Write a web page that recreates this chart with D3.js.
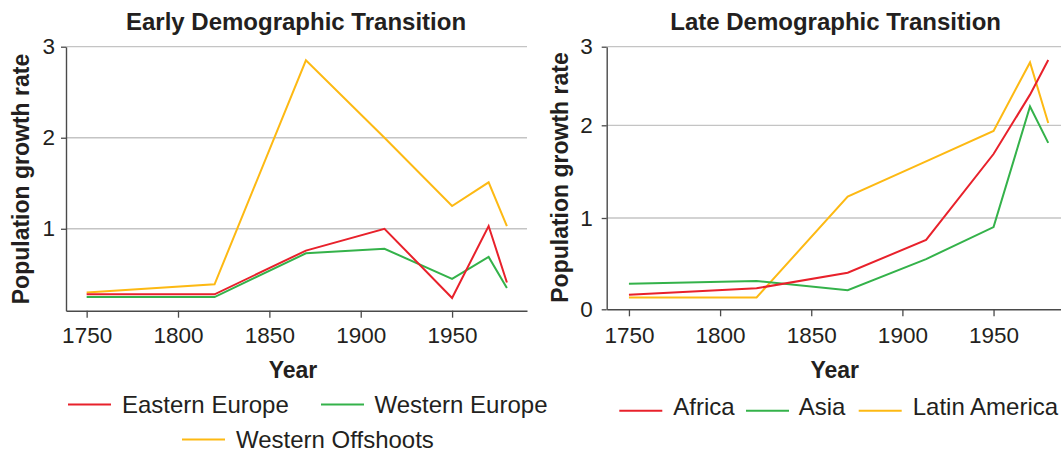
<!DOCTYPE html>
<html>
<head>
<meta charset="utf-8">
<script src="https://cdn.jsdelivr.net/npm/d3@7/dist/d3.min.js"></script>
<style>
  html, body { margin: 0; padding: 0; background: #fff; }
  svg { display: block; font-family: "Liberation Sans", Arial, Helvetica, sans-serif; }
  .tick text { fill: #231f20; }
</style>
</head>
<body>
<svg id="chart" width="1061" height="451"></svg>
<script>
// Period end years shared by both panels
const years = [1750, 1820, 1870, 1913, 1950, 1970, 1980];

// Early transition: population growth rate (% per year)
const easternEurope    = [0.28, 0.28, 0.76, 1.00, 0.24, 1.03, 0.41];
const westernEurope    = [0.25, 0.25, 0.73, 0.78, 0.45, 0.69, 0.35];
const westernOffshoots = [0.30, 0.39, 2.85, 2.00, 1.25, 1.51, 1.03];

// Late transition: population growth rate (% per year)
const africa       = [0.16, 0.23, 0.40, 0.76, 1.69, 2.39, 2.83];
const asia         = [0.28, 0.31, 0.21, 0.55, 0.90, 2.24, 1.81];
const latinAmerica = [0.13, 0.13, 1.23, 1.61, 1.94, 2.80, 2.03];

const xTicks = [1750, 1800, 1850, 1900, 1950];
const earlyYTicks = [1, 2, 3];
const lateYTicks = [0, 1, 2, 3];

const earlyNames = ["Eastern Europe", "Western Europe", "Western Offshoots"];
const lateNames = ["Africa", "Asia", "Latin America"];

const RED = "#e8212b", GREEN = "#34b24a", YELLOW = "#fdb913";
const TEXT = "#231f20", AXIS = "#4a4a4a", GRID = "#c4c4c4";

const svg = d3.select("#chart");

function panel(opts) {
  const g = svg.append("g");
  const x = opts.x, y = opts.y;
  const [x0, x1] = x.range();
  const yBottom = y.range()[0];

  // horizontal gridlines
  g.append("g").selectAll("line")
    .data(opts.yTicks.filter(d => d !== 0))
    .join("line")
    .attr("x1", x0).attr("x2", x1)
    .attr("y1", d => y(d)).attr("y2", d => y(d))
    .attr("stroke", GRID).attr("stroke-width", 1.3);

  // series lines
  const line = d3.line().x((d, i) => x(years[i])).y(d => y(d));
  opts.series.forEach(s => {
    g.append("path")
      .datum(s.values)
      .attr("d", line)
      .attr("fill", "none")
      .attr("stroke", s.color)
      .attr("stroke-width", 2)
      .attr("stroke-linejoin", "miter");
  });

  // x axis
  const xa = g.append("g")
    .attr("transform", `translate(0,${yBottom})`)
    .call(d3.axisBottom(x).tickValues(xTicks).tickFormat(d3.format("d"))
      .tickSize(7).tickSizeOuter(0).tickPadding(opts.xPad));
  // y axis
  const ya = g.append("g")
    .attr("transform", `translate(${x0},0)`)
    .call(d3.axisLeft(y).tickValues(opts.yTicks).tickFormat(d3.format("d"))
      .tickSize(5).tickSizeOuter(0).tickPadding(opts.yPad));
  [xa, ya].forEach(a => {
    a.select(".domain").attr("stroke", AXIS).attr("stroke-width", 1.4);
    a.selectAll(".tick line").attr("stroke", AXIS).attr("stroke-width", 1.3);
    a.selectAll(".tick text").attr("font-size", 22.5).attr("fill", TEXT)
      .attr("font-family", "Liberation Sans, Arial, sans-serif");
  });

  // title
  g.append("text")
    .attr("x", opts.titleX).attr("y", 30)
    .attr("text-anchor", "middle")
    .attr("font-size", 24).attr("font-weight", "bold").attr("fill", TEXT)
    .text(opts.title);

  // x axis title
  g.append("text")
    .attr("x", opts.yearX).attr("y", 378.3)
    .attr("text-anchor", "middle")
    .attr("font-size", 23).attr("font-weight", "bold").attr("fill", TEXT)
    .text("Year");

  // y axis title
  g.append("text")
    .attr("transform", `translate(${opts.yTitleX},${opts.yTitleY}) rotate(-90)`)
    .attr("text-anchor", "middle")
    .attr("font-size", 23).attr("font-weight", "bold").attr("fill", TEXT)
    .text("Population growth rate");

  // legend
  const lg = g.append("g");
  opts.legend.forEach(item => {
    lg.append("line")
      .attr("x1", item.lx).attr("x2", item.lx + 43)
      .attr("y1", item.ly).attr("y2", item.ly)
      .attr("stroke", item.color).attr("stroke-width", 2);
    lg.append("text")
      .attr("x", item.tx).attr("y", item.ty)
      .attr("font-size", 24).attr("fill", TEXT)
      .text(item.name);
  });
}

// Early Demographic Transition
panel({
  x: d3.scaleLinear().domain([1738.7, 1991]).range([66, 527]),
  y: d3.scaleLinear().domain([0.1, 3]).range([310.7, 46.7]),
  yTicks: earlyYTicks,
  xPad: 9.6, yPad: 6,
  title: "Early Demographic Transition", titleX: 296,
  yearX: 293,
  yTitleX: 29, yTitleY: 179,
  series: [
    { values: westernOffshoots, color: YELLOW },
    { values: westernEurope, color: GREEN },
    { values: easternEurope, color: RED }
  ],
  legend: [
    { name: earlyNames[0], color: RED,    lx: 68,  ly: 404.5, tx: 122, ty: 413.3 },
    { name: earlyNames[1], color: GREEN,  lx: 321, ly: 404.5, tx: 374.5, ty: 413.3 },
    { name: earlyNames[2], color: YELLOW, lx: 182, ly: 439.5, tx: 236, ty: 447.5 }
  ]
});

// Late Demographic Transition (value axis spacing differs above 2)
panel({
  x: d3.scaleLinear().domain([1737.8, 1987]).range([606.7, 1061]),
  y: d3.scaleLinear().domain([0, 1, 2, 3]).range([309.3, 218, 125.3, 46.7]),
  yTicks: lateYTicks,
  xPad: 11, yPad: 9,
  title: "Late Demographic Transition", titleX: 835.6,
  yearX: 834.7,
  yTitleX: 567.5, yTitleY: 177.5,
  series: [
    { values: latinAmerica, color: YELLOW },
    { values: asia, color: GREEN },
    { values: africa, color: RED }
  ],
  legend: [
    { name: lateNames[0], color: RED,    lx: 619.3, ly: 410.7, tx: 673.3, ty: 415 },
    { name: lateNames[1], color: GREEN,  lx: 746,   ly: 410.7, tx: 798.7, ty: 415 },
    { name: lateNames[2], color: YELLOW, lx: 858.7, ly: 410.7, tx: 912.7, ty: 415 }
  ]
});
</script>
</body>
</html>
